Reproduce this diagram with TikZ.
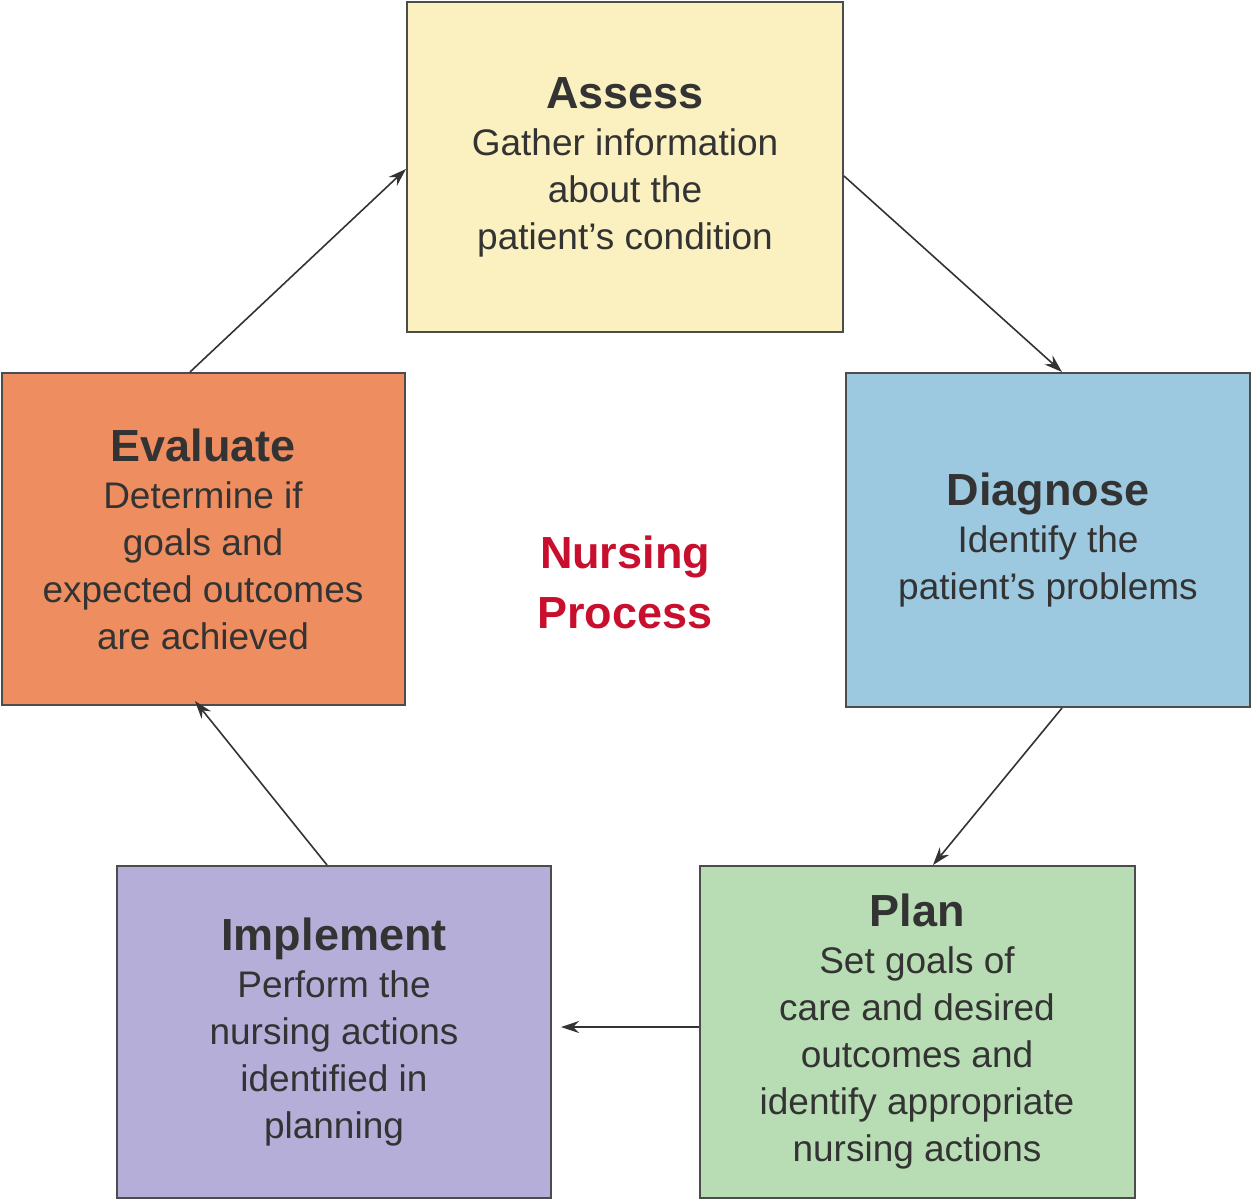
\documentclass[tikz,border=0pt]{standalone}
\usepackage{fontspec}
\setmainfont{Liberation Sans}
\usetikzlibrary{arrows.meta}
\definecolor{cA}{HTML}{FBF0C0}
\definecolor{cD}{HTML}{9CC8E0}
\definecolor{cP}{HTML}{B8DDB4}
\definecolor{cI}{HTML}{B4AED8}
\definecolor{cE}{HTML}{EE8E60}
\definecolor{cR}{HTML}{C8102E}
\definecolor{tx}{HTML}{333333}
\begin{document}
\begin{tikzpicture}[x=1pt,y=-1pt,
  box/.style={draw=black!70,line width=2pt,inner sep=0pt,align=center,text=tx,
    font=\fontsize{37}{47}\selectfont},
  arr/.style={-{Stealth[length=18pt,width=12pt]},line width=1.6pt,draw=black!80}]
\useasboundingbox (0,0) rectangle (1252,1200);
\newcommand{\ttl}[1]{{\fontsize{45}{50}\selectfont\bfseries #1}}
\node[box,fill=cA,minimum width=436pt,minimum height=330pt] (A) at (625,167)
  {\ttl{Assess}\\Gather information\\about the\\patient's condition};
\node[box,fill=cD,minimum width=404pt,minimum height=334pt] (D) at (1048,540)
  {\ttl{Diagnose}\\Identify the\\patient's problems};
\node[box,fill=cP,minimum width=435pt,minimum height=332pt] (P) at (917,1032)
  {\ttl{Plan}\\Set goals of\\care and desired\\outcomes and\\identify appropriate\\nursing actions};
\node[box,fill=cI,minimum width=434pt,minimum height=332pt] (I) at (334,1032)
  {\ttl{Implement}\\Perform the\\nursing actions\\identified in\\planning};
\node[box,fill=cE,minimum width=403pt,minimum height=332pt] (E) at (203,539)
  {\ttl{Evaluate}\\Determine if\\goals and\\expected outcomes\\are achieved};
\node[align=center,text=cR,font=\fontsize{45}{60}\selectfont\bfseries] (N) at (625,582) {Nursing\\Process};
\draw[arr] ([yshift=-9pt]A.east) -- ([xshift=14pt]D.north);
\draw[arr] ([xshift=14pt]D.south) -- ([xshift=16pt]P.north);
\draw[arr] ([yshift=5pt]P.west) -- ([xshift=9pt,yshift=5pt]I.east);
\draw[arr] ([xshift=-7pt]I.north) -- ([xshift=-8pt,yshift=5pt]E.south);
\draw[arr] ([xshift=-13pt]E.north) -- ([yshift=-2pt]A.west);
\end{tikzpicture}
\end{document}
